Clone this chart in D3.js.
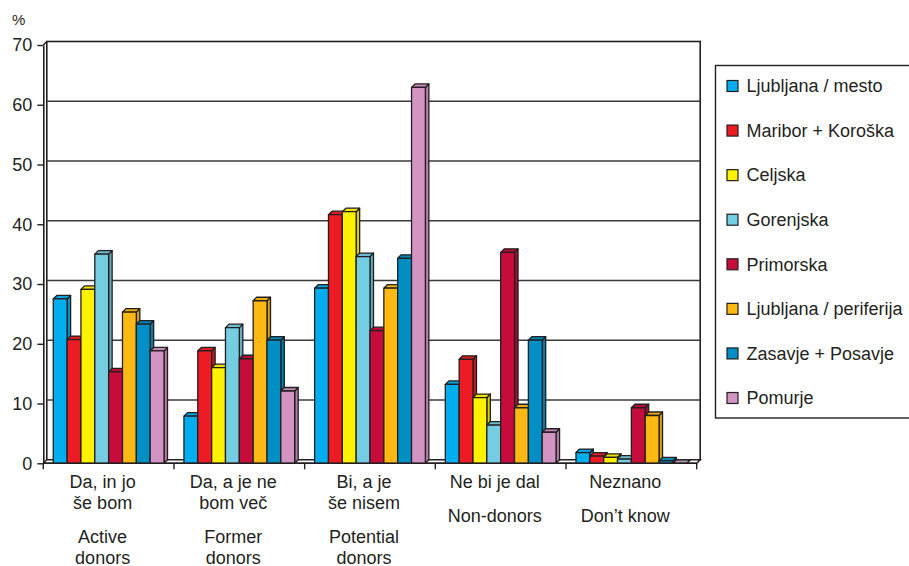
<!DOCTYPE html>
<html>
<head>
<meta charset="utf-8">
<script src="https://cdn.jsdelivr.net/npm/d3@7/dist/d3.min.js"></script>
<style>
  html, body { margin: 0; padding: 0; background: #fff; }
  svg { display: block; font-family: "Liberation Sans", Arial, sans-serif; }
</style>
</head>
<body>
<svg id="chart" width="909" height="566"></svg>
<script>
// Answer categories (Slovenian lines, English lines)
const categoriesSl = [["Da, in jo", "še bom"], ["Da, a je ne", "bom več"], ["Bi, a je", "še nisem"], ["Ne bi je dal"], ["Neznano"]];
const categoriesEn = [["Active", "donors"], ["Former", "donors"], ["Potential", "donors"], ["Non-donors"], ["Don’t know"]];

// Regions (series)
const regions = ["Ljubljana / mesto", "Maribor + Koroška", "Celjska", "Gorenjska", "Primorska", "Ljubljana / periferija", "Zasavje + Posavje", "Pomurje"];
const regionColors = ["#00aeef", "#ed1c24", "#fff200", "#74cde0", "#c60c3b", "#fdb913", "#008fc5", "#d393c3"];

// Shares in % per region, one value per answer category
const ljubljanaMesto     = [27.5, 7.9, 29.3, 13.2, 1.8];
const mariborKoroska     = [20.7, 18.8, 41.6, 17.4, 1.2];
const celjska            = [29.1, 16.0, 42.1, 11.0, 1.0];
const gorenjska          = [35.0, 22.7, 34.6, 6.4, 0.7];
const primorska          = [15.3, 17.5, 22.2, 35.3, 9.3];
const ljubljanaPeriferija= [25.3, 27.2, 29.3, 9.3, 8.0];
const zasavjePosavje     = [23.3, 20.6, 34.3, 20.6, 0.4];
const pomurje            = [18.8, 12.1, 62.9, 5.2, 0.0];
const seriesValues = [ljubljanaMesto, mariborKoroska, celjska, gorenjska, primorska, ljubljanaPeriferija, zasavjePosavje, pomurje];

const yTicks = [0, 10, 20, 30, 40, 50, 60, 70];

const svg = d3.select("#chart");
const ink = "#231f20";
const depth = 3.5;   // 3D offset of the back plane (right and up)
const fontSize = 18;

const catIdx = d3.range(categoriesSl.length);
const x = d3.scaleBand().domain(catIdx).range([43.3, 696.7]).paddingInner(0).paddingOuter(0);
const xs = d3.scaleBand().domain(d3.range(regions.length)).range([0, x.bandwidth()]).paddingInner(0).paddingOuter(0.72);
const y = d3.scaleLinear().domain([0, 70]).range([463.3, 45]);

const x0 = x.range()[0], x1 = x.range()[1];
const yTop = y(70), yBase = y(0);

// Back wall with gridlines
const wall = svg.append("g");
wall.append("rect")
  .attr("x", x0 + depth).attr("y", yTop - depth)
  .attr("width", x1 - x0).attr("height", yBase - yTop)
  .attr("fill", "#fff").attr("stroke", ink).attr("stroke-width", 1.6);
wall.selectAll("line.grid").data(yTicks.filter(t => t > 0 && t < 70)).join("line")
  .attr("class", "grid")
  .attr("x1", x0 + depth).attr("x2", x1 + depth)
  .attr("y1", d => y(d) - depth).attr("y2", d => y(d) - depth)
  .attr("stroke", "#3a3a3a").attr("stroke-width", 1.6);

// Left side wall edge and floor
svg.append("path")
  .attr("d", `M${x0},${yTop} L${x0 + depth},${yTop - depth}`)
  .attr("stroke", ink).attr("stroke-width", 1.4).attr("fill", "none");
svg.append("path")
  .attr("d", `M${x0},${yBase} L${x0 + depth},${yBase - depth} L${x1 + depth},${yBase - depth} L${x1},${yBase} Z`)
  .attr("fill", "#fff").attr("stroke", ink).attr("stroke-width", 1.4);

// Bars with a shallow 3D look
const bars = svg.append("g");
catIdx.forEach(ci => {
  regions.forEach((r, si) => {
    const v = seriesValues[si][ci];
    const bx = x(ci) + xs(si);
    const w = xs.bandwidth();
    const by = y(v);
    const base = d3.color(regionColors[si]);
    const g = bars.append("g").attr("stroke", ink).attr("stroke-width", 1.3).attr("stroke-linejoin", "round");
    // side face
    g.append("path")
      .attr("d", `M${bx + w},${by} L${bx + w + depth},${by - depth} L${bx + w + depth},${yBase - depth} L${bx + w},${yBase} Z`)
      .attr("fill", base.darker(0.45));
    // top face
    g.append("path")
      .attr("d", `M${bx},${by} L${bx + depth},${by - depth} L${bx + w + depth},${by - depth} L${bx + w},${by} Z`)
      .attr("fill", v === 0 ? "#a79aab" : base.darker(0.2));
    // front face
    g.append("rect")
      .attr("x", bx).attr("y", by).attr("width", w).attr("height", yBase - by)
      .attr("fill", base);
  });
});

// Y axis
const yAxis = svg.append("g")
  .attr("transform", `translate(${x0},0)`)
  .call(d3.axisLeft(y).tickValues(yTicks).tickSize(6).tickSizeOuter(0).tickPadding(5));
yAxis.select(".domain").attr("stroke", ink).attr("stroke-width", 1.6);
yAxis.selectAll(".tick line").attr("stroke", ink).attr("stroke-width", 1.4);
yAxis.selectAll(".tick text")
  .attr("font-family", "Liberation Sans, Arial, sans-serif")
  .attr("font-size", fontSize).attr("fill", ink);

svg.append("text").attr("x", 12).attr("y", 25)
  .attr("font-size", 15).attr("fill", ink).text("%");

// X axis front line and ticks at category boundaries
svg.append("line").attr("x1", x0).attr("x2", x1).attr("y1", yBase).attr("y2", yBase)
  .attr("stroke", ink).attr("stroke-width", 1.6);
const edges = catIdx.map(i => x(i)).concat([x1]);
svg.selectAll("line.xtick").data(edges).join("line")
  .attr("class", "xtick")
  .attr("x1", d => d).attr("x2", d => d)
  .attr("y1", yBase).attr("y2", yBase + 6)
  .attr("stroke", ink).attr("stroke-width", 1.4);

// Category labels
const lineH = 21;
catIdx.forEach(ci => {
  const cx = x(ci) + x.bandwidth() / 2 - 6;
  const t = svg.append("text").attr("text-anchor", "middle").attr("font-size", fontSize).attr("fill", ink);
  const sl = categoriesSl[ci];
  sl.forEach((line, li) => {
    t.append("tspan").attr("x", cx).attr("y", 488 + li * lineH).text(line);
  });
  const enStart = 488 + (sl.length - 1) * lineH + 33.5;
  categoriesEn[ci].forEach((line, li) => {
    t.append("tspan").attr("x", cx).attr("y", enStart + li * lineH).text(line);
  });
});

// Legend
const legend = svg.append("g");
legend.append("rect")
  .attr("x", 715.5).attr("y", 65.5).attr("width", 200).attr("height", 352.5)
  .attr("fill", "#fff").attr("stroke", ink).attr("stroke-width", 1.4);
const ly = d3.scalePoint().domain(d3.range(regions.length)).range([86, 398]);
const items = legend.selectAll("g.item").data(regions).join("g")
  .attr("class", "item")
  .attr("transform", (d, i) => `translate(0,${ly(i)})`);
items.append("rect")
  .attr("x", 727).attr("y", -5.5).attr("width", 11).attr("height", 11)
  .attr("fill", (d, i) => regionColors[i]).attr("stroke", ink).attr("stroke-width", 1.2);
items.append("text")
  .attr("x", 746.5).attr("y", 6.3)
  .attr("font-size", fontSize).attr("fill", ink)
  .text(d => d);
</script>
</body>
</html>
